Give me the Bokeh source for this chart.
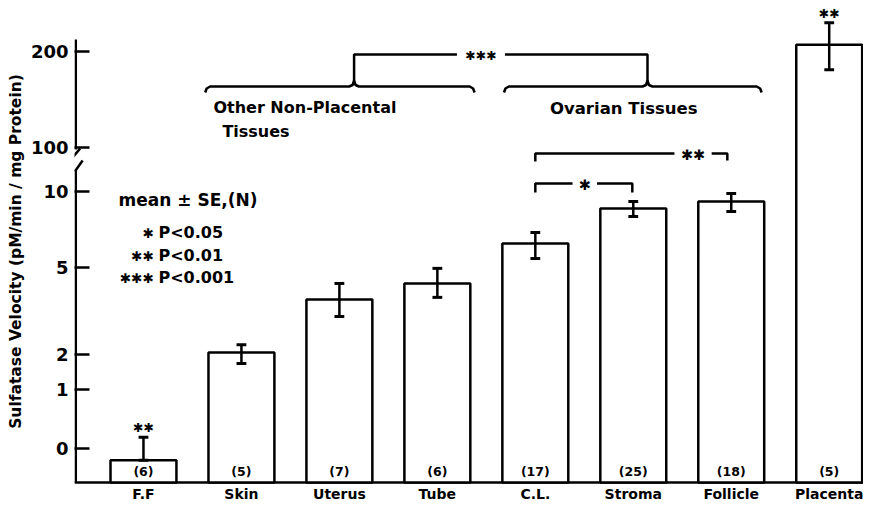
import numpy as np
from bokeh.plotting import figure
from bokeh.models import Range1d, FixedTicker, ColumnDataSource
from bokeh.core.properties import value
from bokeh.embed import file_html
from bokeh.resources import INLINE

# ---------------- data ----------------
CATEGORIES = ["F.F", "Skin", "Uterus", "Tube", "C.L.", "Stroma", "Follicle", "Placenta"]
N_LABELS = ["(6)", "(5)", "(7)", "(6)", "(17)", "(25)", "(18)", "(5)"]
MEANS = [-0.2, 2.07, 3.9, 4.45, 6.58, 8.88, 9.34, 207]
ERR_LOW = [-0.2, 1.74, 3.31, 3.97, 5.59, 8.36, 8.68, 181]
ERR_HIGH = [0.19, 2.34, 4.45, 4.97, 7.3, 9.34, 9.87, 230]
TICK_VALUES = [0, 1, 2, 5, 10, 100, 200]
TICK_LABELS = ["0", "1", "2", "5", "10", "100", "200"]
LEGEND_STARS = ["✱", "✱✱", "✱✱✱"]
LEGEND_P = ["P<0.05", "P<0.01", "P<0.001"]

# broken, non-linear value axis of the original figure: value -> axis position
SCALE_VALUES = [-0.58, 0, 1, 2, 5, 10, 100, 200, 300]
SCALE_POS = [0, 34, 93, 128, 215, 291, 335, 431, 527]


def ypos(v):
    return np.interp(np.asarray(v, dtype=float), SCALE_VALUES, SCALE_POS)


FONT = value("DejaVu Sans")
LW = 2.5

x = np.arange(len(CATEGORIES), dtype=float)
X0, X1 = -0.704, 7.35
Y0, Y1 = -20, 482

p = figure(width=863, height=502, output_backend="svg", toolbar_location=None,
           x_range=Range1d(X0, X1), y_range=Range1d(Y0, Y1),
           min_border_left=74, min_border_right=0, min_border_top=0, min_border_bottom=0)
p.outline_line_color = None
p.xgrid.visible = False
p.ygrid.visible = False
p.background_fill_color = "white"
p.border_fill_color = "white"
p.xaxis.visible = False

# ---- y axis (ticks + labels from Bokeh, line drawn with a break) ----
tick_pos = [float(v) for v in ypos(TICK_VALUES)]
p.yaxis.ticker = FixedTicker(ticks=tick_pos)
p.yaxis.major_label_overrides = {tp: lab for tp, lab in zip(tick_pos, TICK_LABELS)}
p.yaxis.axis_line_color = None
p.yaxis.major_tick_in = 15
p.yaxis.major_tick_out = 0
p.yaxis.major_tick_line_width = LW
p.yaxis.minor_tick_line_color = None
p.yaxis.major_label_text_font = "DejaVu Sans"
p.yaxis.major_label_text_font_size = "18px"
p.yaxis.major_label_text_font_style = "bold"
p.yaxis.major_label_text_color = "black"
p.yaxis.major_label_standoff = 6
p.yaxis.axis_label = "Sulfatase Velocity (pM/min / mg Protein)"
p.yaxis.axis_label_text_font = "DejaVu Sans"
p.yaxis.axis_label_text_font_size = "15.5px"
p.yaxis.axis_label_text_font_style = "bold"
p.yaxis.axis_label_text_color = "black"
p.yaxis.axis_label_standoff = 3

# broken y-axis line and the category baseline
ax = X0 + 0.013
p.multi_line(xs=[[ax, ax], [ax, ax], [ax - 0.05, ax + 0.045], [ax - 0.01, ax + 0.07],
                 [X0, X1]],
             ys=[[0, 313], [333, 443], [323, 334], [311, 322], [0, 0]],
             line_color="black", line_width=LW)

# ---- bars ----
src = ColumnDataSource(dict(x=x, top=ypos(MEANS), lo=ypos(ERR_LOW), hi=ypos(ERR_HIGH),
                            n=N_LABELS, cat=CATEGORIES))
p.vbar(x="x", width=0.673, bottom=0, top="top", source=src,
       fill_color="white", line_color="black", line_width=LW)

# error bars
cap = 0.05
p.segment(x0="x", y0="lo", x1="x", y1="hi", source=src, line_color="black", line_width=LW)
p.segment(x0=x - cap, y0=ypos(ERR_HIGH), x1=x + cap, y1=ypos(ERR_HIGH),
          line_color="black", line_width=LW + 0.5)
p.segment(x0=x - cap, y0=ypos(ERR_LOW), x1=x + cap, y1=ypos(ERR_LOW),
          line_color="black", line_width=LW + 0.5)

# N labels inside bars and category labels below the baseline
p.text(x="x", y=11, text="n", source=src, text_font=FONT, text_font_size="12.5px",
       text_font_style="bold", text_align="center", text_baseline="middle", text_color="black")
p.text(x="x", y=-11, text="cat", source=src, text_font=FONT, text_font_size="14px",
       text_font_style="bold", text_align="center", text_baseline="middle", text_color="black")

# significance stars above F.F and Placenta
p.text(x=[x[0], x[7]], y=[ypos(ERR_HIGH[0]) + 10, ypos(ERR_HIGH[7]) + 9], text=["✱✱", "✱✱"],
       text_font=FONT, text_font_size="12.5px", text_align="center", text_baseline="middle",
       text_color="black")

# ---- group braces ----
def brace(x0, x1, pk, y):
    xs = [x0, x0 + 0.015, x0 + 0.05, pk - 0.05, pk - 0.015, pk, pk + 0.015, pk + 0.05,
          x1 - 0.05, x1 - 0.015, x1]
    ys = [y - 6, y - 2, y, y, y + 1.5, y + 6, y + 1.5, y, y, y - 2, y - 6]
    return xs, ys

BY = 396
TOPY = 428
pk1, pk2 = 2.15, 5.145
b1 = brace(0.63, 3.38, pk1, BY)
b2 = brace(3.68, 6.31, pk2, BY)
p.multi_line(xs=[b1[0], b2[0], [pk1, pk1, 3.2], [3.69, pk2, pk2]],
             ys=[b1[1], b2[1], [BY + 6, TOPY, TOPY], [TOPY, TOPY, BY + 6]],
             line_color="black", line_width=LW)
p.text(x=[3.445], y=[TOPY - 1], text=["✱✱✱"], text_font=FONT, text_font_size="12.5px",
       text_align="center", text_baseline="middle", text_color="black")

p.text(x=[0.714, 0.806], y=[375, 351], text=["Other Non-Placental", "Tissues"],
       text_font=FONT, text_font_size="16px", text_font_style="bold",
       text_align="left", text_baseline="middle", text_color="black")
p.text(x=[4.149], y=[374], text=["Ovarian Tissues"],
       text_font=FONT, text_font_size="16.5px", text_font_style="bold",
       text_align="left", text_baseline="middle", text_color="black")

# ---- pairwise significance brackets ----
p.multi_line(xs=[[4.0, 4.0, 5.42], [5.80, 5.96, 5.96], [4.0, 4.0, 4.38], [4.63, 4.99, 4.99]],
             ys=[[321, 329, 329], [329, 329, 322], [290, 299, 299], [299, 299, 290]],
             line_color="black", line_width=LW)
p.text(x=[5.61, 4.505], y=[328, 298], text=["✱✱", "✱"], text_font=FONT,
       text_font_size="14.5px", text_align="center", text_baseline="middle", text_color="black")

# ---- legend block ----
p.text(x=[-0.255], y=[283], text=["mean ± SE,(N)"], text_font=FONT, text_font_size="17px",
       text_font_style="bold", text_align="left", text_baseline="middle", text_color="black")
p.text(x=[0.153] * 3, y=[250, 227, 205], text=LEGEND_P, text_font=FONT,
       text_font_size="16px", text_font_style="bold", text_align="left",
       text_baseline="middle", text_color="black")
p.text(x=[0.102] * 3, y=[250, 227, 205], text=LEGEND_STARS, text_font=FONT,
       text_font_size="13.5px", text_align="right", text_baseline="middle", text_color="black")

open("out.html", "w").write(file_html(p, INLINE))
